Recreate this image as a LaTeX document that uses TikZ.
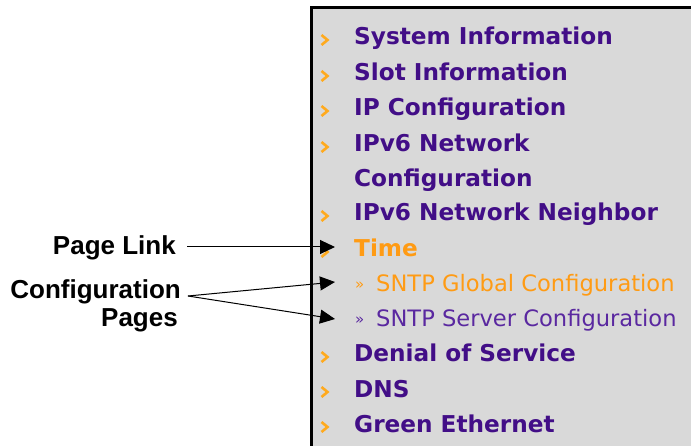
\documentclass[tikz,border=0pt]{standalone}
\usepackage{fontspec}
\usetikzlibrary{arrows.meta,calc}
\newfontfamily\menufont{DejaVu Sans}
\newfontfamily\labfont{Liberation Sans}
\definecolor{panelgray}{RGB}{217,217,217}
\definecolor{menupurple}{RGB}{66,14,135}
\definecolor{menuorange}{RGB}{255,155,20}
\definecolor{bulletorange}{RGB}{255,170,30}
\definecolor{subpurple}{RGB}{90,40,160}
\tikzset{
  menuitem/.style={anchor=base west, inner sep=0pt, text=menupurple, font=\menufont\bfseries\fontsize{23.2}{23.2}\selectfont},
  subitem/.style={anchor=base west, inner sep=0pt, font=\menufont\fontsize{22.6}{22.6}\selectfont},
  raquo/.style={anchor=base west, inner sep=0pt, font=\menufont\fontsize{15}{15}\selectfont},
  labeltext/.style={anchor=base east, inner sep=0pt, font=\labfont\bfseries\fontsize{26}{26}\selectfont},
  bulletmark/.style={draw=bulletorange, line width=2.6pt, line cap=butt, line join=miter},
  pointer/.style={draw=black, line width=1pt, -{Triangle[length=15pt,width=14pt]}},
}
\newcommand{\bulletat}[1]{\draw[bulletmark] ($(#1)+(-3.5,-5)$) -- ($(#1)+(2.5,0)$) -- ($(#1)+(-3.5,5)$);}
\begin{document}
\begin{tikzpicture}[x=1pt,y=-1pt]
\useasboundingbox (0,0) rectangle (691,446);
% panel
\fill[panelgray] (311,8) rectangle (691,446);
\draw[line width=3pt] (311,447) -- (311,8) -- (692,8);
% menu items
\node[menuitem] (m1) at (354,45) {System Information};
\node[menuitem] (m2) at (354,81) {Slot Information};
\node[menuitem] (m3) at (354,116) {IP Configuration};
\node[menuitem] (m4) at (354,152) {IPv6 Network};
\node[menuitem] (m4b) at (354,187) {Configuration};
\node[menuitem] (m5) at (354,221) {IPv6 Network Neighbor};
\node[menuitem, text=menuorange] (m6) at (354,257) {Time};
\node[raquo, text=menuorange] (r1) at (355,290) {»};
\node[subitem, text=menuorange] (s1) at (376,292) {SNTP Global Configuration};
\node[raquo, text=subpurple] (r2) at (355,325) {»};
\node[subitem, text=subpurple] (s2) at (376,327) {SNTP Server Configuration};
\node[menuitem] (m7) at (354,362) {Denial of Service};
\node[menuitem] (m8) at (354,397) {DNS};
\node[menuitem] (m9) at (354,432) {Green Ethernet};
% bullets
\foreach \y in {40,76,111,147,216,252,357,392,427}{
  \coordinate (b) at (325,\y);
  \bulletat{b}
}
% labels
\node[labeltext] (pl) at (176,255) {Page Link};
\node[labeltext] (cp) at (181,299) {Configuration};
\node[labeltext] (pg) at (178,327) {Pages};
\coordinate (tTime) at (335,247);
\coordinate (tGlob) at (335,282);
\coordinate (tServ) at (335,319);
\coordinate (cpEnd) at ($(cp.base east)+(7,-3)$);
\draw[pointer] ($(pl.base east)+(11,-8)$) -- (tTime);
\draw[pointer] (cpEnd) -- (tGlob);
\draw[pointer] (cpEnd) -- (tServ);
\end{tikzpicture}
\end{document}
